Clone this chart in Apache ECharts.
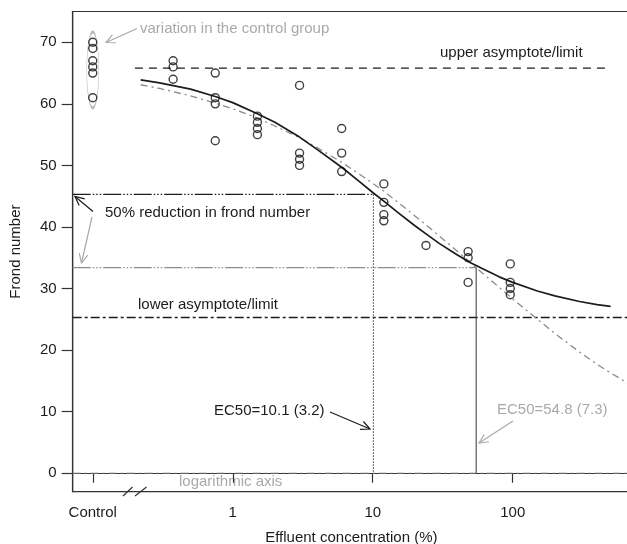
<!DOCTYPE html>
<html>
<head>
<meta charset="utf-8">
<script src="https://cdn.jsdelivr.net/npm/echarts@6/dist/echarts.min.js"></script>
<style>
html,body{margin:0;padding:0;background:#fff;}
#chart{width:627px;height:544px;}
</style>
</head>
<body>
<div id="chart"></div>
<script>
// ---------------- data ----------------
const xTickValues = [0.1, 1, 10, 100];
const xTickLabels = ['Control', '1', '10', '100'];
const yTickValues = [0, 10, 20, 30, 40, 50, 60, 70];

const controlConc = 0.1;                       // control group plotted at the "Control" tick
const controlFronds = [70, 69, 67, 66, 65, 61];

const doseConc = [0.375, 0.75, 1.5, 3, 6, 12, 24, 48, 96];
const doseFronds = [
  [67, 66, 64],
  [65, 61, 60, 54],
  [58, 57, 56, 55],
  [63, 52, 51, 50],
  [56, 52, 49],
  [47, 44, 42, 41],
  [37],
  [36, 35, 31],
  [34, 31, 30, 29]
];

// solid fitted curve (4-parameter, with lower limit)
const fitAConc = [0.22, 0.3, 0.5, 0.75, 1, 1.5, 2, 3, 4, 6, 8, 10, 12, 15, 20, 25, 30, 40, 50, 60, 80, 100, 150, 200, 300, 400, 500];
const fitAValues = [63.9, 63.4, 62.4, 61.2, 60.2, 58.4, 57.0, 54.6, 52.6, 49.7, 47.4, 45.6, 44.2, 42.4, 40.2, 38.6, 37.3, 35.5, 34.2, 33.3, 31.9, 31.0, 29.6, 28.8, 27.9, 27.4, 27.1];

// grey dash-dot fitted curve (3-parameter, no lower limit)
const fitBConc = [0.22, 0.3, 0.5, 0.75, 1, 1.5, 2, 3, 4, 6, 8, 10, 12, 15, 20, 25, 30, 40, 50, 60, 80, 100, 150, 200, 300, 400, 500, 700];
const fitBValues = [63.1, 62.5, 61.3, 60.1, 59.2, 57.7, 56.4, 54.5, 52.9, 50.5, 48.6, 47.1, 45.8, 44.1, 41.8, 40.0, 38.5, 36.1, 34.2, 32.6, 30.2, 28.3, 25.0, 22.7, 19.7, 17.7, 16.3, 14.3];

const upperLimit = 65.8;
const lowerLimit = 25.3;
const ec50A = 10.1;
const halfA = 45.3;
const ec50B = 54.8;
const halfB = 33.4;
const controlEllipseCentre = 65.5;

const xMin = 0.0719, xMax = 688;
const asymptoteStart = 0.2, asymptoteEnd = 500;

// ---------------- chart ----------------
const FONT = 'Liberation Sans, Arial, Helvetica, sans-serif';
const BLACK = '#1c1c1c', GREY_TXT = '#a9a9a9', GREY_LINE = '#8a8a8a';

const chart = echarts.init(document.getElementById('chart'), null, {renderer: 'canvas'});

const pointData = controlFronds.map(v => [controlConc, v]);
doseConc.forEach((c, i) => doseFronds[i].forEach(v => pointData.push([c, v])));

function lineSeries(name, data, color, width, type, z) {
  return {
    name, type: 'line', data, symbol: 'none', silent: true, z: z || 2,
    lineStyle: {color, width, type: type || 'solid'}, animation: false
  };
}

function arrow(x1, y1, x2, y2, color) {
  const ang = Math.atan2(y2 - y1, x2 - x1), L = 10, a = Math.PI / 7;
  const p1 = [x2 - L * Math.cos(ang - a), y2 - L * Math.sin(ang - a)];
  const p2 = [x2 - L * Math.cos(ang + a), y2 - L * Math.sin(ang + a)];
  return [
    {type: 'line', silent: true, shape: {x1, y1, x2, y2}, style: {stroke: color, lineWidth: 1.2}},
    {type: 'polyline', silent: true, shape: {points: [p1, [x2, y2], p2]}, style: {stroke: color, lineWidth: 1.2, fill: null}}
  ];
}
function label(text, x, y, color) {
  return {type: 'text', silent: true, x, y,
    style: {text, fill: color, font: '15px ' + FONT, align: 'left', verticalAlign: 'middle'}};
}

const option = {
  animation: false,
  grid: {left: 72.7, right: -3, top: 11.5, bottom: 52.3, show: true, borderColor: '#333', borderWidth: 1.2,
    containLabel: false, outerBoundsMode: 'none'},
  xAxis: {
    type: 'log', min: xMin, max: xMax,
    name: 'Effluent concentration (%)', nameLocation: 'middle', nameGap: 39,
    nameTextStyle: {fontFamily: FONT, fontSize: 15, color: BLACK},
    axisLine: {lineStyle: {color: '#333', width: 1.2}},
    axisTick: {customValues: xTickValues, length: 9.5, lineStyle: {color: '#333', width: 1.2}},
    axisLabel: {customValues: xTickValues, margin: 14, fontFamily: FONT, fontSize: 15, color: BLACK,
      formatter: v => { const i = xTickValues.findIndex(t => Math.abs(Math.log10(t) - Math.log10(v)) < 1e-6); return i >= 0 ? xTickLabels[i] : ''; }},
    splitLine: {show: false}, minorTick: {show: false}
  },
  yAxis: {
    type: 'value', min: -3, max: 75,
    name: 'Frond number', nameLocation: 'middle', nameGap: 49,
    nameTextStyle: {fontFamily: FONT, fontSize: 15, color: BLACK},
    axisLine: {show: true, lineStyle: {color: '#333', width: 1.2}},
    axisTick: {show: true, customValues: yTickValues, length: 11, lineStyle: {color: '#333', width: 1.2}},
    axisLabel: {customValues: yTickValues, margin: 16, fontFamily: FONT, fontSize: 15, color: BLACK},
    splitLine: {show: false}
  },
  series: [
    // reference lines
    lineSeries('zero', [[xMin, 0], [xMax, 0]], '#7a7a7a', 1, [8, 4, 2, 4]),
    lineSeries('upper limit', [[asymptoteStart, upperLimit], [asymptoteEnd, upperLimit]], BLACK, 1.2, [8, 6]),
    lineSeries('lower limit', [[xMin, lowerLimit], [xMax, lowerLimit]], BLACK, 1.4, [9, 3, 3, 3]),
    lineSeries('half A', [[xMin, halfA], [ec50A, halfA]], BLACK, 1.1, [18, 2, 1.5, 2, 1.5, 2, 1.5, 2]),
    lineSeries('half B', [[xMin, halfB], [ec50B, halfB]], '#8c8c8c', 1.1, [18, 2, 1.5, 2, 1.5, 2, 1.5, 2]),
    lineSeries('ec50 A', [[ec50A, halfA], [ec50A, 0]], '#333', 1, [1.5, 1.5]),
    lineSeries('ec50 B', [[ec50B, halfB], [ec50B, 0]], '#444', 1.1),
    // fitted curves
    lineSeries('fit B', fitBConc.map((c, i) => [c, fitBValues[i]]), GREY_LINE, 1.3, [7, 4, 2, 4], 3),
    lineSeries('fit A', fitAConc.map((c, i) => [c, fitAValues[i]]), BLACK, 1.7, 'solid', 4),
    // control group ellipse
    {type: 'scatter', silent: true, z: 1, data: [[controlConc, controlEllipseCentre]],
      symbol: 'circle', symbolSize: [12, 76],
      itemStyle: {color: 'rgba(0,0,0,0)', borderColor: '#aaaaaa', borderWidth: 1.3}},
    // observations
    {type: 'scatter', silent: true, z: 5, data: pointData, symbol: 'circle', symbolSize: 8,
      itemStyle: {color: 'rgba(255,255,255,0)', borderColor: '#111', borderWidth: 1.4}}
  ],
  graphic: [
    label('variation in the control group', 140, 29, GREY_TXT),
    ...arrow(137, 28.5, 106, 42.5, GREY_TXT),
    label('upper asymptote/limit', 440, 53, BLACK),
    label('50% reduction in frond number', 105, 213, BLACK),
    ...arrow(93, 211.5, 75, 196.5, BLACK),
    ...arrow(92, 217, 81.5, 263, GREY_TXT),
    label('lower asymptote/limit', 138, 305, BLACK),
    label('EC50=10.1 (3.2)', 214, 410.5, BLACK),
    ...arrow(330, 412, 370, 429, BLACK),
    label('EC50=54.8 (7.3)', 497, 410, GREY_TXT),
    ...arrow(513, 421, 479, 443, GREY_TXT),
    label('logarithmic axis', 179, 482, GREY_TXT),
    {type: 'line', silent: true, shape: {x1: 123, y1: 496, x2: 132.5, y2: 487}, style: {stroke: '#333', lineWidth: 1.2}},
    {type: 'line', silent: true, shape: {x1: 135, y1: 496, x2: 146.5, y2: 487}, style: {stroke: '#333', lineWidth: 1.2}}
  ]
};
chart.setOption(option);
</script>
</body>
</html>
